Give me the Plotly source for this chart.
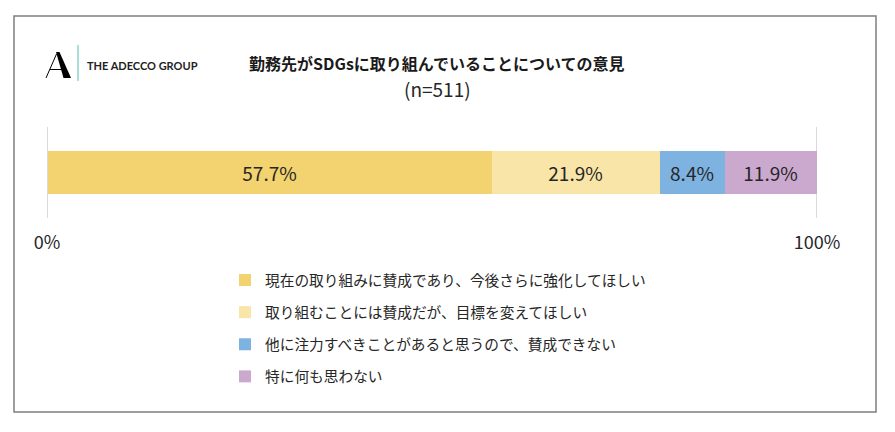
import plotly.graph_objects as go

W, H = 895, 432

categories = [
    "現在の取り組みに賛成であり、今後さらに強化してほしい",
    "取り組むことには賛成だが、目標を変えてほしい",
    "他に注力すべきことがあると思うので、賛成できない",
    "特に何も思わない",
]
values = [57.7, 21.9, 8.4, 11.9]
colors = ["#F2D36F", "#F9E5A7", "#7EB2E0", "#CBA9CF"]
tick_vals = [0, 100]
tick_text = ["0%", "100%"]
title_text = "勤務先がSDGsに取り組んでいることについての意見"
subtitle_text = "(n=511)"
logo_text = "THE ADECCO GROUP"

FONT = "Noto Sans CJK JP"

fig = go.Figure()
for i, (cat, val, col) in enumerate(zip(categories, values, colors)):
    fig.add_trace(go.Bar(
        x=[val], y=[0], orientation="h", name=cat,
        marker=dict(color=col, line=dict(width=0)),
        text=[f"{val:.1f}%"], textposition="inside", insidetextanchor="middle",
        textfont=dict(size=19, color="#262626", family=FONT),
        legendgroup=f"g{i}", hoverinfo="skip", width=0.99,
    ))

def px(x):
    return x / W

def py(y):
    return 1 - y / H

fig.update_layout(
    width=W, height=H, autosize=False,
    margin=dict(l=0, r=0, t=0, b=0, pad=0, autoexpand=False),
    paper_bgcolor="white", plot_bgcolor="white",
    barmode="stack", bargap=0.0,
    font=dict(family=FONT, color="#262626"),
    xaxis=dict(domain=[px(45.5), px(818.5)], range=[-0.2, 100.2], tickvals=tick_vals, ticktext=tick_text,
               showgrid=True, gridcolor="#D9D9D9", gridwidth=1, zeroline=False,
               showline=False, ticks="", tickfont=dict(size=18, color="#262626"),
               ticklabelstandoff=12, fixedrange=True, automargin=False),
    yaxis=dict(domain=[py(218), py(127)], range=[-1.06, 1.06], showticklabels=False,
               showgrid=False, zeroline=False, fixedrange=True, automargin=False),
    showlegend=True,
    legend=dict(x=px(225), y=py(264), xanchor="left", yanchor="top",
                orientation="v", traceorder="grouped", tracegroupgap=10,
                font=dict(size=14.7, color="#262626", family=FONT),
                itemwidth=30, bgcolor="rgba(0,0,0,0)"),
)

# border
fig.add_shape(type="rect", xref="paper", yref="paper",
              x0=px(14), x1=px(876), y0=py(412), y1=py(16),
              line=dict(color="#7F7F7F", width=1.5), fillcolor="rgba(0,0,0,0)", layer="below")

# logo
fig.add_shape(type="path", xref="paper", yref="paper",
              path=f"M {px(56)},{py(52)} L {px(59.5)},{py(52)} L {px(71)},{py(78)} L {px(63.5)},{py(78)} Z",
              fillcolor="black", line=dict(width=0))
fig.add_shape(type="line", xref="paper", yref="paper",
              x0=px(56.5), y0=py(54), x1=px(46), y1=py(78), line=dict(color="black", width=1))
fig.add_shape(type="line", xref="paper", yref="paper",
              x0=px(50), y0=py(69.5), x1=px(63), y1=py(69.5), line=dict(color="black", width=1))
fig.add_shape(type="line", xref="paper", yref="paper",
              x0=px(78), y0=py(45), x1=px(78), y1=py(81), line=dict(color="#8FD3D0", width=1.5))
fig.add_annotation(x=px(85), y=py(65), xref="paper", yref="paper", xanchor="left", yanchor="middle",
                   text=f"<b>{logo_text}</b>", showarrow=False,
                   font=dict(size=11, color="#222222", family="Lato"))

# titles
fig.add_annotation(x=px(437), y=py(63), xref="paper", yref="paper", xanchor="center", yanchor="middle",
                   text=f"<b>{title_text}</b>", showarrow=False,
                   font=dict(size=16, color="#1a1a1a", family=FONT))
fig.add_annotation(x=px(437), y=py(89), xref="paper", yref="paper", xanchor="center", yanchor="middle",
                   text=subtitle_text, showarrow=False,
                   font=dict(size=19, color="#262626", family=FONT))

fig.write_html("out.html", config={"responsive": False, "displayModeBar": False},
               post_script="document.body.style.margin='0';document.body.style.overflow='hidden';")
